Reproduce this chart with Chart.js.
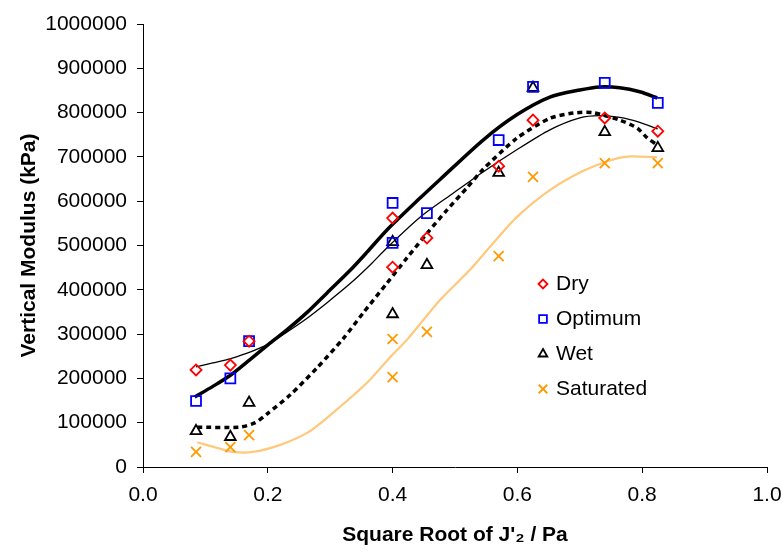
<!DOCTYPE html>
<html>
<head>
<meta charset="utf-8">
<title>Vertical Modulus vs Square Root of J'2</title>
<script src="https://cdn.jsdelivr.net/npm/chart.js@4.4.1/dist/chart.umd.min.js"></script>
<style>
  html, body { margin: 0; padding: 0; background: #fff; }
  #wrap { position: relative; width: 783px; height: 552px; }
</style>
</head>
<body>
<div id="wrap"><canvas id="modChart" width="783" height="552"></canvas></div>
<script>
// Measured points (square root of J'2, vertical modulus in kPa)
const xPoints = [0.085, 0.14, 0.17, 0.40, 0.40, 0.455, 0.57, 0.625, 0.74, 0.825];
const dryValues = [219000, 230000, 284000, 562000, 451000, 517000, 679000, 783000, 788000, 758000];
const optimumValues = [149000, 200000, 284000, 596000, 506000, 573000, 738000, 858000, 867000, 822000];
const wetValues = [81000, 68000, 145000, 508000, 345000, 456000, 664000, 856000, 756000, 720000];
const saturatedValues = [34000, 45000, 72000, 289000, 203000, 305000, 476000, 655000, 686000, 686000];

// Trend curves
const optimumTrendX = [0.083, 0.112, 0.139, 0.171, 0.204, 0.231, 0.263, 0.295, 0.332, 0.359, 0.391, 0.444, 0.476, 0.545, 0.599, 0.652, 0.700, 0.732, 0.764, 0.796, 0.824];
const optimumTrendY = [158000, 182000, 206000, 242000, 280000, 310000, 349000, 393000, 444000, 485000, 535000, 607000, 649000, 738000, 795000, 835000, 851000, 858000, 856000, 847000, 833000];

const dryTrendX = [0.085, 0.112, 0.139, 0.167, 0.183, 0.204, 0.231, 0.263, 0.295, 0.332, 0.364, 0.391, 0.444, 0.497, 0.545, 0.599, 0.652, 0.700, 0.732, 0.764, 0.796, 0.825];
const dryTrendY = [226000, 235000, 244000, 257000, 266000, 280000, 305000, 336000, 371000, 414000, 456000, 495000, 564000, 618000, 666000, 716000, 761000, 788000, 793000, 789000, 778000, 763000];

const wetTrendX = [0.087, 0.155, 0.180, 0.199, 0.236, 0.279, 0.321, 0.353, 0.391, 0.423, 0.455, 0.487, 0.519, 0.545, 0.599, 0.652, 0.690, 0.721, 0.764, 0.792, 0.808, 0.824];
const wetTrendY = [90000, 90000, 100000, 120000, 163000, 224000, 290000, 348000, 415000, 472000, 527000, 580000, 630000, 672000, 742000, 787000, 799000, 800000, 783000, 765000, 743000, 727000];

const saturatedTrendX = [0.087, 0.119, 0.144, 0.176, 0.220, 0.263, 0.295, 0.359, 0.396, 0.423, 0.476, 0.524, 0.556, 0.599, 0.652, 0.705, 0.748, 0.780, 0.824];
const saturatedTrendY = [56000, 43000, 34000, 34000, 50000, 77000, 111000, 190000, 248000, 287000, 377000, 445000, 497000, 564000, 625000, 668000, 692000, 701000, 699000];

const xTicks = [0, 0.2, 0.4, 0.6, 0.8, 1.0];

const FONT = 'Arial, "Liberation Sans", sans-serif';

function toXY(xs, ys) {
    return xs.map((x, i) => ({ x: x, y: ys[i] }));
}

function markerSet(label, values, style, color, radius) {
    return {
        label: label,
        data: toXY(xPoints, values),
        pointStyle: style,
        pointRadius: radius,
        pointBorderColor: color,
        pointBackgroundColor: 'rgba(0,0,0,0)',
        pointBorderWidth: 1.8,
        showLine: false,
        order: 1
    };
}

function trendSet(xs, ys, color, width, dash) {
    return {
        label: '',
        data: toXY(xs, ys),
        showLine: true,
        borderColor: color,
        borderWidth: width,
        borderDash: dash || [],
        pointRadius: 0,
        tension: 0.25,
        order: 2
    };
}

const markers = [
    { label: 'Dry', style: 'rectRot', color: '#ff0000', legendRadius: 4.5 },
    { label: 'Optimum', style: 'rect', color: '#0000ff', legendRadius: 5.5 },
    { label: 'Wet', style: 'triangle', color: '#000000', legendRadius: 5 },
    { label: 'Saturated', style: 'crossRot', color: '#ff9900', legendRadius: 6 }
];

// Legend drawn inside the plot, like the original
const insideLegend = {
    id: 'insideLegend',
    afterDraw(chart) {
        const ctx = chart.ctx;
        const left = 543, top = 284, rowGap = 35;
        ctx.save();
        ctx.font = '21px ' + FONT;
        ctx.textBaseline = 'middle';
        markers.forEach((m, i) => {
            const y = top + i * rowGap;
            ctx.strokeStyle = m.color;
            ctx.fillStyle = 'rgba(0,0,0,0)';
            ctx.lineWidth = 1.8;
            Chart.helpers.drawPoint(ctx, {
                pointStyle: m.style,
                radius: m.legendRadius,
                rotation: 0,
                borderWidth: 1.8
            }, left, y);
            ctx.fillStyle = '#000';
            ctx.fillText(m.label, left + 13, y);
        });
        ctx.restore();
    }
};

function initializeChart() {
    const ctx = document.getElementById('modChart');

    new Chart(ctx, {
        type: 'scatter',
        data: {
            datasets: [
                markerSet('Dry', dryValues, 'rectRot', '#ff0000', 5.5),
                markerSet('Optimum', optimumValues, 'rect', '#0000ff', 7),
                markerSet('Wet', wetValues, 'triangle', '#000000', 6.2),
                markerSet('Saturated', saturatedValues, 'crossRot', '#ff9900', 7),
                trendSet(saturatedTrendX, saturatedTrendY, '#ffc87a', 2.2),
                trendSet(dryTrendX, dryTrendY, '#000000', 1.3),
                trendSet(optimumTrendX, optimumTrendY, '#000000', 3.5),
                trendSet(wetTrendX, wetTrendY, '#000000', 3.5, [5, 4])
            ]
        },
        options: {
            responsive: false,
            animation: false,
            layout: { padding: { top: 24, right: 16, left: 0, bottom: 0 } },
            plugins: {
                legend: { display: false },
                tooltip: { enabled: false }
            },
            scales: {
                x: {
                    type: 'linear',
                    min: 0,
                    max: 1,
                    afterBuildTicks(scale) {
                        scale.ticks = xTicks.map(v => ({ value: v }));
                    },
                    afterFit(scale) {
                        scale.height = 85;
                        scale.paddingLeft = 0;
                        scale.paddingRight = 0;
                    },
                    border: { color: '#000', width: 1 },
                    grid: { drawOnChartArea: false, color: '#000', tickLength: 6 },
                    ticks: {
                        color: '#000',
                        padding: 10,
                        font: { family: FONT, size: 21 },
                        callback: v => Number(v).toFixed(1)
                    },
                    title: {
                        display: true,
                        text: "Square Root of J'\u2082 / Pa",
                        color: '#000',
                        font: { family: FONT, size: 21, weight: 'bold' },
                        padding: { top: 4, bottom: 4 }
                    }
                },
                y: {
                    min: 0,
                    max: 1000000,
                    afterFit(scale) { scale.width = 143; },
                    border: { color: '#000', width: 1 },
                    grid: { drawOnChartArea: false, color: '#000', tickLength: 6 },
                    ticks: {
                        stepSize: 100000,
                        color: '#000',
                        padding: 10,
                        font: { family: FONT, size: 21 },
                        callback: v => String(v)
                    },
                    title: {
                        display: true,
                        text: 'Vertical Modulus (kPa)',
                        color: '#000',
                        font: { family: FONT, size: 21, weight: 'bold' },
                        padding: { top: 17, bottom: 4 }
                    }
                }
            }
        },
        plugins: [insideLegend]
    });
}

initializeChart();
</script>
</body>
</html>
